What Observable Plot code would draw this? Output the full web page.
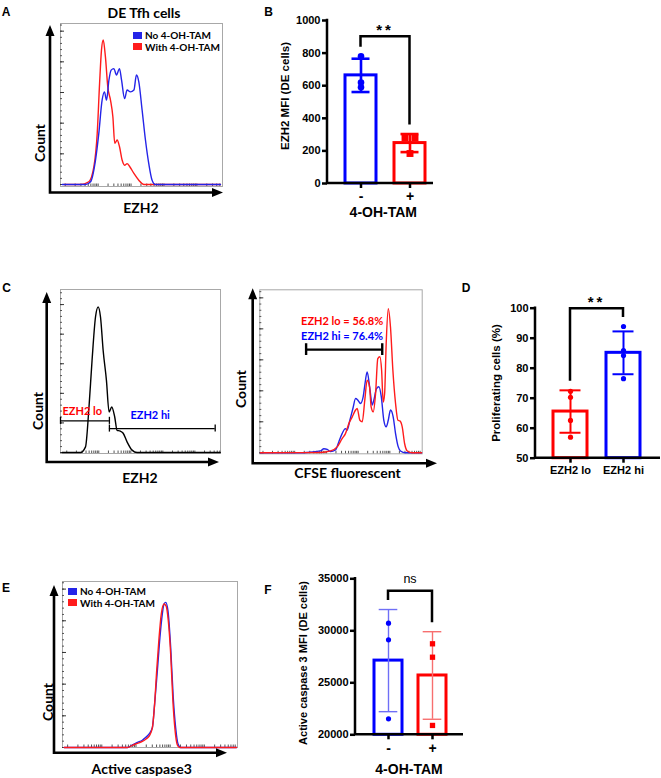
<!DOCTYPE html>
<html lang="en">
<head>
<meta charset="utf-8">
<title>EZH2, proliferation and active caspase 3 in DE Tfh cells</title>
<script src="https://cdn.jsdelivr.net/npm/d3@7"></script>
<script src="https://cdn.jsdelivr.net/npm/@observablehq/plot@0.6"></script>
<style>
  html, body { margin: 0; background: #fff; }
  #figure { position: relative; width: 661px; height: 778px; overflow: hidden; background: #fff; }
  #figure svg { position: absolute; overflow: visible; background: transparent !important; max-width: none !important; }
  .t { position: absolute; white-space: nowrap; line-height: 1; color: #000; font-weight: 700; }
  .legend { position: absolute; font: 700 10px Lato, "Open Sans", sans-serif; line-height: 10px; }
  .legend .row { display: flex; align-items: center; white-space: nowrap; height: 10px; margin-bottom: 1.5px; }
  .legend .sw { display: inline-block; width: 9px; height: 7px; margin-right: 3px; }
</style>
</head>
<body>
<div id="figure"></div>
<script>
// ---------- data ----------
// Flow histograms: [channel, events]
const ezh2DeNoTam = [[11,0],[158,0],[190,9],[221,79],[242,166],[263,275],[278,302],[291,275],[306,340],[320,373],[337,378],[354,357],[373,378],[386,340],[405,280],[421,308],[442,302],[464,308],[480,357],[495,335],[516,242],[537,145],[558,68],[579,14],[600,0],[1011,0]];
const ezh2DeWithTam = [[21,0],[126,0],[179,9],[211,58],[232,166],[247,329],[259,438],[270,471],[284,416],[299,318],[316,275],[331,221],[343,134],[358,145],[373,123],[390,79],[405,63],[421,68],[438,58],[464,36],[495,14],[527,0],[1011,0]];

// EZH2 MFI of DE cells, one value per mouse
const tamGroups = ["-", "+"];
const ezh2MfiNoTam = [780, 620, 590];
const ezh2MfiWithTam = [280, 280, 184];

// EZH2 staining of CFSE-labelled cells and the lo / hi gates
const ezh2Staining = [[11,0],[128,0],[160,19],[181,143],[202,312],[224,458],[241,492],[256,458],[273,345],[294,244],[311,137],[328,154],[347,120],[362,75],[379,73],[400,66],[426,36],[458,8],[490,0],[1022,0]];
const ezh2GateNames = ["EZH2 lo", "EZH2 hi"];
const ezh2GateFrom = [0, 313];
const ezh2GateTo = [313, 990];
const ezh2GateLevel = [107, 81];

// CFSE dilution of EZH2 lo and EZH2 hi cells
const cfseEzh2Lo = [[4,0],[383,1],[446,6],[488,19],[519,46],[540,62],[562,95],[583,116],[604,138],[614,143],[631,105],[646,100],[662,170],[677,234],[692,213],[702,148],[715,132],[730,191],[744,304],[757,310],[768,267],[778,164],[787,191],[797,353],[810,465],[824,406],[839,267],[856,159],[871,105],[883,103],[898,84],[913,30],[930,6],[961,0],[1020,0]];
const cfseEzh2Hi = [[4,0],[236,0],[320,2],[383,6],[404,13],[425,11],[446,4],[477,9],[498,35],[519,62],[540,78],[551,73],[568,105],[587,143],[604,175],[618,170],[635,159],[652,181],[662,218],[677,261],[694,207],[709,154],[719,170],[736,207],[751,213],[766,181],[782,105],[797,84],[810,105],[824,138],[841,116],[856,62],[873,19],[887,6],[919,0],[1020,0]];
const divisionGate = [292, 772, 333];         // from, to, level
const proliferatingPct = [56.8, 76.4];        // EZH2 lo, EZH2 hi

// Proliferating cells (%)
const ezh2Groups = ["EZH2 lo", "EZH2 hi"];
const proliferatingLo = [72.3, 70.3, 62.6, 57.0];
const proliferatingHi = [93.9, 85.9, 84.2, 76.5];

// Active caspase 3 histograms
const casp3NoTam = [[10,0],[380,0],[409,8],[438,16],[467,23],[487,32],[506,42],[526,63],[539,137],[555,242],[570,347],[584,421],[594,453],[604,458],[617,432],[633,316],[648,158],[662,63],[676,11],[691,0],[1018,0]];
const casp3WithTam = [[10,0],[380,0],[409,7],[438,13],[467,19],[487,26],[506,35],[526,63],[539,137],[551,242],[565,347],[578,421],[594,453],[606,447],[619,400],[633,295],[646,147],[658,58],[672,8],[685,0],[1018,0]];

// Active caspase 3 MFI of DE cells
const casp3MfiNoTam = [30730, 29135, 21540];
const casp3MfiWithTam = [28750, 27460, 20900];

// ---------- drawing ----------
const ARIAL = '"Liberation Sans", Arial, sans-serif';
const CALIBRI = 'Lato, "Open Sans", sans-serif';
const BLUE = "#0000ff", RED = "#ff0000";
const HBLUE = "#2424e8", HRED = "#ff1c1c";
const fig = document.getElementById("figure");

function place(node, left, top) {
  node.style.left = left + "px";
  node.style.top = top + "px";
  fig.appendChild(node);
  return node;
}

function label(str, x, y, {size = 12, font = ARIAL, color = "#000", rotate = 0, weight = 700} = {}) {
  const d = document.createElement("div");
  d.className = "t";
  d.textContent = str;
  d.style.fontSize = size + "px";
  d.style.fontFamily = font;
  d.style.fontWeight = weight;
  d.style.color = color;
  d.style.transform = `translate(-50%,-50%)` + (rotate ? ` rotate(${rotate}deg)` : "");
  return place(d, x, y);
}

function legend(items, x, y) {
  const d = document.createElement("div");
  d.className = "legend";
  for (const [name, color] of items) {
    const r = document.createElement("div");
    r.className = "row";
    const s = document.createElement("span");
    s.className = "sw";
    s.style.background = color;
    r.appendChild(s);
    r.appendChild(document.createTextNode(name));
    d.appendChild(r);
  }
  return place(d, x, y);
}

// log-spaced minor ticks of a flow cytometry axis
function flowTicks(start, decade) {
  const t = [];
  for (let k = 0; k < 6; ++k) for (let j = 1; j < 10; ++j) {
    const v = start + decade * (k + Math.log10(j));
    if (v > 2 && v < 1020) t.push(v);
  }
  return t;
}

function axisArrows(svg, x0, y0, xTip, yTip) {
  const g = d3.select(svg).append("g");
  const head = 11, half = 4.5;
  g.append("path")
    .attr("d", `M${x0},${y0}V${yTip + head - 1}M${x0},${y0}H${xTip - head + 1}`)
    .attr("fill", "none").attr("stroke", "#000").attr("stroke-width", 2.6).attr("stroke-linecap", "square");
  g.append("path")
    .attr("d", `M${x0},${yTip}l${-half},${head}h${2 * half}z M${xTip},${y0}l${-head},${-half}v${2 * half}z`)
    .attr("fill", "#000");
}

function histogram({left, top, width, height, mL, mR, mT, mB, inset, yMax, ticksStart, ticksDecade, series, extra = [], arrows}) {
  const svg = Plot.plot({
    width, height,
    marginLeft: mL, marginRight: mR, marginTop: mT, marginBottom: mB,
    style: {fontFamily: CALIBRI, background: "transparent"},
    x: {domain: [0, 1024], axis: null},
    y: {domain: [0, yMax], axis: null, insetBottom: inset},
    marks: [
      Plot.frame({stroke: "#a8a8a8", strokeWidth: 1}),
      Plot.axisY(d3.range(0, yMax, 20), {anchor: "left", tickSize: -2, tickFormat: () => "", label: null, stroke: "#555"}),
      Plot.axisY(d3.range(0, yMax, 100), {anchor: "left", tickSize: -4, tickFormat: () => "", label: null, stroke: "#333"}),
      Plot.axisX(flowTicks(ticksStart, ticksDecade), {anchor: "bottom", tickSize: -2.5, tickFormat: () => "", label: null, stroke: "#555"}),
      ...series.map(([data, color]) => Plot.line(data, {x: d => d[0], y: d => d[1], stroke: color, strokeWidth: 1.4, curve: "monotone-x"})),
      ...extra
    ]
  });
  place(svg, left, top);
  axisArrows(svg, ...arrows);
  return svg;
}

function dodgeOffsets(values) {
  const count = d3.rollup(values, v => v.length, v => v);
  const seen = new Map();
  return values.map(v => {
    const k = seen.get(v) || 0;
    seen.set(v, k + 1);
    return k - (count.get(v) - 1) / 2;
  });
}

function barChart(cfg) {
  const {left, top, width, height, mL, mR, mT, mB, groups, samples, colors, errColors, symbols,
         dotR, spread, yDomain, yTicks, padIn, padOut, barWidth, errWidth, capInset, axisEnd,
         tickFont, groupFont, sig} = cfg;
  const stats = groups.map((g, i) => ({group: g, i, mean: d3.mean(samples[i]), sd: d3.deviation(samples[i]),
                                        top: Math.max(d3.mean(samples[i]) + d3.deviation(samples[i]), d3.max(samples[i]))}));
  const dots = [];
  groups.forEach((g, i) => {
    const offs = dodgeOffsets(samples[i]);
    const pts = samples[i].map((v, j) => ({group: g, value: v, off: offs[j]}));
    for (const o of new Set(offs)) {
      dots.push(Plot.dot(pts.filter(p => p.off === o), {
        x: "group", y: "value", fill: colors[i], stroke: "none",
        symbol: symbols[i], r: dotR[i], dx: o * spread
      }));
    }
  });
  const base = yDomain[0];
  const svg = Plot.plot({
    width, height,
    marginLeft: mL, marginRight: mR, marginTop: mT, marginBottom: mB,
    style: {fontFamily: ARIAL, background: "transparent"},
    x: {domain: groups, paddingInner: padIn, paddingOuter: padOut, axis: null},
    y: {domain: yDomain, axis: null},
    marks: [
      Plot.barY(stats, {x: "group", y1: base, y2: "mean", fill: "white", stroke: d => colors[d.i], strokeWidth: barWidth}),
      Plot.ruleX(stats, {x: "group", y1: d => d.mean - d.sd, y2: d => d.mean + d.sd, stroke: d => errColors[d.i], strokeWidth: errWidth}),
      Plot.tickY(stats, {x: "group", y: d => d.mean + d.sd, stroke: d => errColors[d.i], strokeWidth: errWidth, insetLeft: capInset, insetRight: capInset}),
      Plot.tickY(stats, {x: "group", y: d => d.mean - d.sd, stroke: d => errColors[d.i], strokeWidth: errWidth, insetLeft: capInset, insetRight: capInset}),
      ...dots,
      Plot.axisY(yTicks, {anchor: "left", tickSize: 5, tickPadding: 2, strokeWidth: 2.5, fontSize: tickFont, fontWeight: "bold", tickFormat: d => String(d), label: null}),
      Plot.axisX(groups, {anchor: "bottom", tickSize: 5, tickPadding: 3, strokeWidth: 2.5, fontSize: groupFont, fontWeight: "bold", label: null})
    ]
  });
  place(svg, left, top);

  // axis lines and significance bracket, positioned with the plot's own scales
  const xs = svg.scale("x"), ys = svg.scale("y");
  const y0 = ys.apply(yDomain[0]), y1 = ys.apply(yDomain[1]);
  const g = d3.select(svg).append("g").attr("fill", "none").attr("stroke", "#000").attr("stroke-width", 2.5);
  g.append("path").attr("d", `M${mL},${y1 - 1.2}V${y0}H${axisEnd}`);
  const cx = s => xs.apply(s.group) + xs.bandwidth / 2;
  const by = ys.apply(sig.level);
  const [a, b] = stats;
  g.append("path").attr("d", `M${cx(a)},${ys.apply(a.top) - 9}V${by}H${cx(b)}V${ys.apply(b.top) - 9}`);
  d3.select(svg).append("text")
    .attr("x", (cx(a) + cx(b)) / 2).attr("y", by - sig.gap)
    .attr("text-anchor", "middle")
    .attr("font-size", sig.size).attr("font-weight", sig.weight)
    .attr("letter-spacing", sig.spacing)
    .attr("fill", "#000")
    .text(sig.text);
  return svg;
}

// ---- A: EZH2 in DE Tfh cells ----
histogram({
  left: 0, top: 0, width: 230, height: 225, mL: 60, mR: 8, mT: 23, mB: 39, inset: 2, yMax: 525,
  ticksStart: 30, ticksDecade: 208,
  series: [[ezh2DeWithTam, HRED], [ezh2DeNoTam, HBLUE]],
  arrows: [50, 192.5, 223, 25]
});
label("A", 6, 12, {size: 12});
label("DE Tfh cells", 144, 12.5, {size: 14, font: CALIBRI});
legend([["No 4-OH-TAM", HBLUE], ["With 4-OH-TAM", HRED]], 133, 30);
label("Count", 40, 143, {size: 14, font: CALIBRI, rotate: -90});
label("EZH2", 141, 208, {size: 14, font: CALIBRI});

// ---- B: EZH2 MFI ----
barChart({
  left: 240, top: 0, width: 220, height: 225, mL: 87, mR: 16, mT: 20, mB: 42,
  groups: tamGroups, samples: [ezh2MfiNoTam, ezh2MfiWithTam],
  colors: [BLUE, RED], errColors: [BLUE, RED], symbols: ["circle", "square"], dotR: [3.3, 3.9], spread: 10,
  yDomain: [0, 1000], yTicks: [0, 200, 400, 600, 800, 1000], padIn: 0.367, padOut: 0.377,
  barWidth: 3, errWidth: 2.6, capInset: 6.5, axisEnd: 193, tickFont: 11, groupFont: 14,
  sig: {text: "**", level: 900, gap: 1, size: 15, weight: 700, spacing: 3}
});
label("B", 268.7, 12, {size: 12});
label("EZH2 MFI (DE cells)", 285.8, 96, {size: 11.5, rotate: -90});
label("4-OH-TAM", 383.3, 212, {size: 14});

// ---- C: EZH2 gates and CFSE dilution ----
const gateRows = ezh2GateNames.map((name, i) => ({name, from: ezh2GateFrom[i], to: ezh2GateTo[i], level: ezh2GateLevel[i]}));
const gateEnds = gateRows.flatMap(r => [{x: r.from, level: r.level}, {x: r.to, level: r.level}]);
histogram({
  left: 0, top: 275, width: 230, height: 215, mL: 60, mR: 10, mT: 14, mB: 37, inset: 1, yMax: 551,
  ticksStart: 40, ticksDecade: 205,
  series: [[ezh2Staining, "#000"]],
  extra: [
    Plot.ruleY(gateRows, {y: "level", x1: "from", x2: "to", stroke: "#000", strokeWidth: 1.3}),
    Plot.ruleX(gateEnds, {x: "x", y1: d => d.level - 12, y2: d => d.level + 12, stroke: "#000", strokeWidth: 1.3}),
    Plot.text(gateRows.slice(0, 1), {x: "from", y: "level", text: "name", fill: RED, textAnchor: "start", dx: 2, dy: -9, fontSize: 11, fontWeight: "bold", fontFamily: CALIBRI}),
    Plot.text(gateRows.slice(1), {x: "from", y: "level", text: "name", fill: BLUE, textAnchor: "start", dx: 21, dy: -13, fontSize: 11, fontWeight: "bold", fontFamily: CALIBRI})
  ],
  arrows: [46.7, 187, 219, 17]
});
label("C", 6.7, 288, {size: 12});
label("Count", 37.5, 411, {size: 14, font: CALIBRI, rotate: -90});
label("EZH2", 140, 478, {size: 14, font: CALIBRI});

const divRows = ezh2GateNames.map((name, i) => ({name, pct: proliferatingPct[i]}));
const divGate = {from: divisionGate[0], to: divisionGate[1], level: divisionGate[2]};
histogram({
  left: 220, top: 275, width: 225, height: 215, mL: 39.3, mR: 23.3, mT: 14.3, mB: 36.7, inset: 1, yMax: 526,
  ticksStart: 20, ticksDecade: 200,
  series: [[cfseEzh2Hi, HBLUE], [cfseEzh2Lo, HRED]],
  extra: [
    Plot.ruleY([divGate], {y: "level", x1: "from", x2: "to", stroke: "#000", strokeWidth: 2.4}),
    Plot.ruleX([divGate.from, divGate.to], {x: d => d, y1: divGate.level - 19, y2: divGate.level + 19, stroke: "#000", strokeWidth: 2.4}),
    Plot.text(divRows.slice(0, 1), {x: divGate.from, y: divGate.level, text: d => `${d.name} = ${d.pct}%`, fill: RED, textAnchor: "start", dx: -5, dy: -28.6, fontSize: 11, fontWeight: "bold", fontFamily: CALIBRI}),
    Plot.text(divRows.slice(1), {x: divGate.from, y: divGate.level, text: d => `${d.name} = ${d.pct}%`, fill: BLUE, textAnchor: "start", dx: -5, dy: -13.3, fontSize: 11, fontWeight: "bold", fontFamily: CALIBRI})
  ],
  arrows: [32.7, 188.3, 217, 13.3]
});
label("Count", 240.8, 389, {size: 14, font: CALIBRI, rotate: -90});
label("CFSE fluorescent", 347.5, 473, {size: 14, font: CALIBRI});

// ---- D: proliferating cells ----
barChart({
  left: 440, top: 280, width: 221, height: 205, mL: 95, mR: 3, mT: 27.7, mB: 27.3,
  groups: ezh2Groups, samples: [proliferatingLo, proliferatingHi],
  colors: [RED, BLUE], errColors: [RED, BLUE], symbols: ["circle", "circle"], dotR: [2.6, 2.6], spread: 8,
  yDomain: [50, 100], yTicks: [50, 60, 70, 80, 90, 100], padIn: 0.36, padOut: 0.34,
  barWidth: 3, errWidth: 2, capInset: 6.5, axisEnd: 220, tickFont: 11, groupFont: 11,
  sig: {text: "**", level: 99.8, gap: 1, size: 15, weight: 700, spacing: 3}
});
label("D", 466, 288, {size: 12});
label("Proliferating cells (%)", 496.7, 382.5, {size: 11.5, rotate: -90});

// ---- E: active caspase 3 ----
histogram({
  left: 0, top: 570, width: 240, height: 208, mL: 62, mR: 3, mT: 11, mB: 31, inset: 0, yMax: 524,
  ticksStart: 30, ticksDecade: 200,
  series: [[casp3NoTam, HBLUE], [casp3WithTam, HRED]],
  arrows: [54, 182.7, 227, 15]
});
label("E", 6, 588, {size: 12});
legend([["No 4-OH-TAM", HBLUE], ["With 4-OH-TAM", HRED]], 68, 586);
label("Count", 47.5, 702, {size: 14, font: CALIBRI, rotate: -90});
label("Active caspase3", 141.7, 768.5, {size: 14, font: CALIBRI});

// ---- F: active caspase 3 MFI ----
barChart({
  left: 220, top: 570, width: 250, height: 208, mL: 135, mR: 4.3, mT: 8.3, mB: 43.7,
  groups: tamGroups, samples: [casp3MfiNoTam, casp3MfiWithTam],
  colors: [BLUE, RED], errColors: ["#6f6ff6", "#f76f6f"], symbols: ["circle", "square"], dotR: [2.6, 3], spread: 8,
  yDomain: [20000, 35000], yTicks: [20000, 25000, 30000, 35000], padIn: 0.36, padOut: 0.43,
  barWidth: 3, errWidth: 1.4, capInset: 4.7, axisEnd: 243, tickFont: 11, groupFont: 14,
  sig: {text: "ns", level: 33800, gap: 7.5, size: 12.5, weight: 400, spacing: 0}
});
label("F", 268, 590, {size: 12});
label("Active caspase 3 MFI (DE cells)", 303, 663, {size: 11, rotate: -90});
label("4-OH-TAM", 409, 768.5, {size: 14});
</script>
</body>
</html>
